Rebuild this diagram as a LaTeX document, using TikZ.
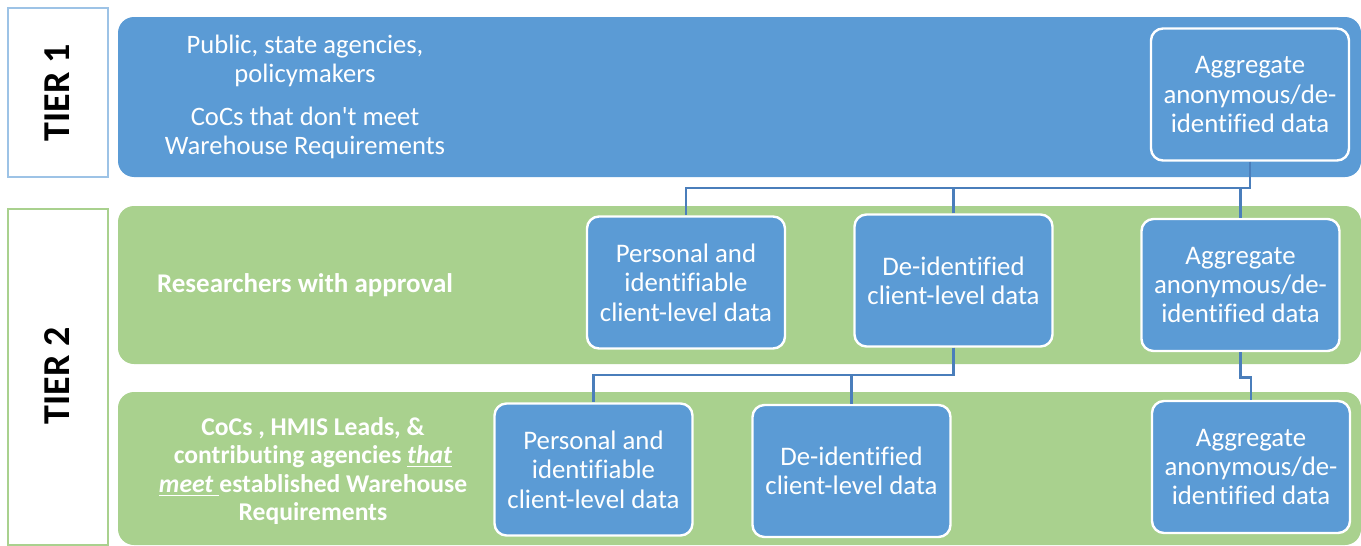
\documentclass[tikz,border=0pt]{standalone}
\usepackage{fontspec}
\setmainfont{Carlito}[Ligatures={TeX,NoCommon}]
\newfontfamily\straightfont{Carlito}
\usepackage{tikz}
\usetikzlibrary{positioning}

\definecolor{boxblue}{HTML}{5B9BD5}
\definecolor{bandgreen}{HTML}{A9D18E}
\definecolor{linkblue}{HTML}{4A7EBB}
\definecolor{tierblue}{HTML}{9DC3E6}

\begin{document}
\begin{tikzpicture}[x=0.5pt, y=-0.5pt,
		databox/.style={draw=white, line width=1.2pt, fill=boxblue, rounded corners=6pt,
			text=white, align=center, minimum width=99pt, minimum height=66pt,
			font=\fontsize{13.4}{14.7}\selectfont},
		bandtext/.style={text=white, align=center, font=\fontsize{13.3}{14.4}\selectfont},
		tierlabel/.style={rotate=90, font=\fontsize{19}{22}\selectfont\bfseries},
		link/.style={draw=linkblue, line width=1.3pt}]
		\useasboundingbox (0,0) rectangle (1361,546);
		
		% Tier labels
		\draw[tierblue, line width=1.2pt] (8,8) rectangle (108,177);
		\draw[bandgreen, line width=1.2pt] (8,209) rectangle (108,545);
		\node[tierlabel] (T_1) at (57,93) {TIER 1};
		\node[tierlabel] (T_2) at (57,376) {TIER 2};
		
		% Bands
		\fill[boxblue, rounded corners=8pt] (118,17) rectangle (1361,177);
		\fill[bandgreen, rounded corners=8pt] (118,206) rectangle (1361,364);
		\fill[bandgreen, rounded corners=8pt] (118,392) rectangle (1361,545);
		
		% Band texts
		\node[bandtext] (U_1) at (305,97) {Public, state agencies,\\policymakers\\[7pt]CoCs that don{\straightfont'}t meet\\Warehouse Requirements};
		\node[bandtext, font=\fontsize{13.5}{14.4}\selectfont\bfseries] (U_2) at (305,285) {Researchers with approval};
		\node[bandtext, font=\fontsize{12.8}{14.3}\selectfont\bfseries] (U_3) at (313,471)
			{CoCs , HMIS Leads, \&\\contributing agencies \underline{\textit{that}}\\\underline{\textit{meet}\ }established Warehouse\\Requirements};
		
		% Data boxes
		\node[databox] (A_1) at (1250,94.5) {Aggregate\\anonymous/de-\\identified data};
		\node[databox] (P_2) at (686,282.5) {Personal and\\identifiable\\client-level data};
		\node[databox] (D_2) at (953.5,280.5) {De-identified\\client-level data};
		\node[databox] (A_2) at (1240.5,285) {Aggregate\\anonymous/de-\\identified data};
		\node[databox] (P_3) at (593.5,469.5) {Personal and\\identifiable\\client-level data};
		\node[databox] (D_3) at (851.5,471) {De-identified\\client-level data};
		\node[databox] (A_3) at (1251,467) {Aggregate\\anonymous/de-\\identified data};
		
		% Connectors
		\coordinate (bus_1) at (1250,188);
		\coordinate (bus_2) at (953.5,375);
		\draw[link] (A_1.south) -- (bus_1) -| (P_2.north);
		\draw[link] (D_2.north) -- (D_2.north |- bus_1);
		\draw[link] (A_2.north) -- (A_2.north |- bus_1);
		\draw[link] (D_2.south) -- (bus_2) -| (P_3.north);
		\draw[link] (D_3.north) -- (D_3.north |- bus_2);
		\draw[link] (A_2.south) -- ++(0,25) -| (A_3.north);
	\end{tikzpicture}
\end{document}
